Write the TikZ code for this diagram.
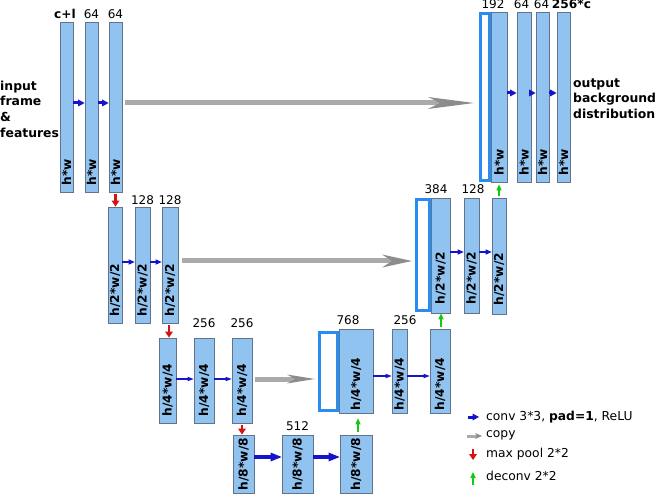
\documentclass[tikz,border=0pt]{standalone}
\usepackage{fontspec}
\setmainfont{DejaVu Sans}
\usetikzlibrary{arrows.meta}
\definecolor{boxfill}{RGB}{145,195,240}
\definecolor{boxline}{RGB}{100,115,140}
\definecolor{outl}{RGB}{40,140,240}
\definecolor{convc}{RGB}{20,20,200}
\definecolor{poolc}{RGB}{210,20,20}
\definecolor{deconvc}{RGB}{20,200,20}
\definecolor{copyc}{RGB}{170,170,170}
\definecolor{copyd}{RGB}{140,140,140}
\newcommand\fmbox[6]{\node[#1, minimum width={#4pt-#3pt}, minimum height={#6pt-#5pt}] (#2) at ({(#3+#4)/2},{(#5+#6)/2}) {};}
\tikzset{
 fm/.style={draw=boxline, fill=boxfill, line width=0.8pt, inner sep=0pt},
 ob/.style={draw=outl, fill=white, line width=3pt, inner sep=0pt},
 lbl/.style={font=\fontsize{12pt}{14pt}\selectfont, anchor=base, inner sep=0pt},
 blbl/.style={lbl, font=\fontsize{12.2pt}{14pt}\selectfont\bfseries},
 dimtxt/.style={font=\fontsize{12.2pt}{14pt}\selectfont\bfseries, rotate=90, anchor=west, inner sep=0pt},
 side/.style={font=\fontsize{12.4pt}{14pt}\selectfont\bfseries, anchor=base west, inner sep=0pt},
 legtxt/.style={font=\fontsize{12.3pt}{14pt}\selectfont, anchor=base west, inner sep=0pt},
 convA/.style={draw=convc, line width=3pt, -{Triangle[length=6.5pt,width=7pt,line width=0pt]}},
 convB/.style={draw=convc, line width=1.8pt, -{Triangle[length=6pt,width=5.5pt,line width=0pt]}},
 convC/.style={draw=convc, line width=1.5pt, -{Triangle[length=6pt,width=4.5pt,line width=0pt]}},
 convD/.style={draw=convc, line width=4pt, -{Triangle[length=11pt,width=9pt,line width=0pt]}},
 copyarr/.style={draw=copyc, line width=5pt},
 pool/.style={draw=poolc, line width=2.5pt, -{Triangle[length=6pt,width=8pt,line width=0pt]}},
 deconv/.style={draw=deconvc, line width=1.8pt, -{Triangle[length=6pt,width=5.5pt,line width=0pt]}},
}
\begin{document}
\begin{tikzpicture}[x=1pt,y=-1pt]
\useasboundingbox (0,0) rectangle (656,494);
% level 1 (encoder)
\fmbox{fm}{A1}{60}{73}{22}{192}
\fmbox{fm}{A2}{85}{98}{22}{192}
\fmbox{fm}{A3}{109}{122}{22}{192}
% level 2
\fmbox{fm}{B1}{108}{122}{207}{323}
\fmbox{fm}{B2}{135}{150}{207}{323}
\fmbox{fm}{B3}{162}{178}{207}{323}
% level 3
\fmbox{fm}{C1}{159}{176}{338}{423}
\fmbox{fm}{C2}{194}{214}{338}{423}
\fmbox{fm}{C3}{232}{252}{338}{423}
% level 4
\fmbox{fm}{D1}{233}{254}{435}{493}
\fmbox{fm}{D2}{282}{313}{435}{493}
\fmbox{fm}{D3}{340}{372}{435}{493}
% decoder level 3
\fmbox{ob}{E0}{319.5}{337.5}{332.5}{410.5}
\fmbox{fm}{E1}{339}{373}{329}{413}
\fmbox{fm}{E2}{392}{407}{329}{413}
\fmbox{fm}{E3}{430}{450}{329}{413}
% decoder level 2
\fmbox{ob}{F0}{416.5}{429.5}{199.5}{310.5}
\fmbox{fm}{F1}{431}{450}{198}{313}
\fmbox{fm}{F2}{464}{479}{198}{313}
\fmbox{fm}{F3}{492}{506}{198}{314}
% decoder level 1
\fmbox{ob}{G0}{480.5}{489.5}{13.5}{180.5}
\fmbox{fm}{G1}{491}{507}{12}{182}
\fmbox{fm}{G2}{517}{531}{12}{182}
\fmbox{fm}{G3}{536}{549}{12}{182}
\fmbox{fm}{G4}{557}{570}{12}{182}
% texts inside boxes
\foreach \b in {A1,A2,A3} {\node[dimtxt] at ([yshift=7pt]\b.south) {h*w};}
\foreach \b in {G1,G2,G3,G4} {\node[dimtxt] at ([yshift=7pt]\b.south) {h*w};}
\foreach \b in {B1,B2,B3} {\node[dimtxt] at ([yshift=7pt]\b.south) {h/2*w/2};}
\foreach \b in {F1,F2,F3} {\node[dimtxt] at ([yshift=9pt]\b.south) {h/2*w/2};}
\foreach \b in {C1,C2,C3} {\node[dimtxt] at ([yshift=7pt]\b.south) {h/4*w/4};}
\foreach \b in {E1,E2,E3} {\node[dimtxt] at ([yshift=3pt]\b.south) {h/4*w/4};}
\foreach \b in {D1,D2,D3} {\node[dimtxt] at ([yshift=3pt]\b.south) {h/8*w/8};}
% channel labels
\node[blbl] (lA1) at ([xshift=-1.5pt,yshift=3pt]A1.north) {c+l};
\node[lbl] (lA2) at ([yshift=3pt]A2.north) {64};
\node[lbl] (lA3) at ([yshift=3pt]A3.north) {64};
\node[lbl] (lB2) at ([yshift=2pt]B2.north) {128};
\node[lbl] (lB3) at ([yshift=2pt]B3.north) {128};
\node[lbl] (lC2) at ([yshift=10pt]C2.north) {256};
\node[lbl] (lC3) at ([yshift=10pt]C3.north) {256};
\node[lbl] (lD2) at ([yshift=4pt]D2.north) {512};
\node[lbl] (lE1) at (348,324) {768};
\node[lbl] (lE2) at (405,324) {256};
\node[lbl] (lF1) at (436,194) {384};
\node[lbl] (lF2) at (473,194) {128};
\node[lbl] (lG1) at (493,9) {192};
\node[lbl] (lG2) at (521.5,9) {64};
\node[lbl] (lG3) at (541.5,9) {64};
\node[blbl] (lG4) at (571.5,9) {256*c};
% side texts
\node[side] (in1) at (0,90.5) {input};
\node[side] (in2) at (0,106) {frame};
\node[side] (in3) at (0,121.8) {\&};
\node[side] (in4) at (0,137.7) {features};
\node[side] (out1) at (573,87.3) {output};
\node[side] (out2) at (573,103) {background};
\node[side] (out3) at (573,118.7) {distribution};
% conv arrows
\draw[convA] (A1.east |- 0,103) -- (A2.west |- 0,103);
\draw[convA] (A2.east |- 0,103) -- (A3.west |- 0,103);
\draw[convA] (G1.east |- 0,93) -- (G2.west |- 0,93);
\draw[convA] (G2.east |- 0,93) -- (G3.west |- 0,93);
\draw[convA] (G3.east |- 0,93) -- (G4.west |- 0,93);
\draw[convB] (B1.east |- 0,262) -- (B2.west |- 0,262);
\draw[convB] (B2.east |- 0,262) -- (B3.west |- 0,262);
\draw[convB] (F1.east |- 0,252) -- (F2.west |- 0,252);
\draw[convB] (F2.east |- 0,252) -- (F3.west |- 0,252);
\draw[convC] (C1.east |- 0,379) -- (C2.west |- 0,379);
\draw[convC] (C2.east |- 0,379) -- (C3.west |- 0,379);
\draw[convC] (E1.east |- 0,376) -- (E2.west |- 0,376);
\draw[convC] (E2.east |- 0,376) -- (E3.west |- 0,376);
\draw[convD] (D1.east |- 0,457) -- (D2.west |- 0,457);
\draw[convD] (D2.east |- 0,457) -- (D3.west |- 0,457);
% copy arrows
\draw[copyarr, -{Stealth[length=46pt,width=12pt,inset=12pt,line width=0pt,color=copyd]}] ([xshift=3pt]A3.east |- 0,103) -- ([xshift=-5pt]G0.west |- 0,103);
\draw[copyarr, -{Stealth[length=30pt,width=13pt,inset=10pt,line width=0pt,color=copyd]}] ([xshift=4pt]B3.east |- 0,261) -- ([xshift=-3pt]F0.west |- 0,261);
\draw[copyarr, -{Stealth[length=28pt,width=9pt,inset=8pt,line width=0pt,color=copyd]}] ([xshift=3pt]C3.east |- 0,379) -- ([xshift=-3pt]E0.west |- 0,379);
% max pool arrows
\draw[pool] ([yshift=-2pt]A3.south) -- (A3.south |- B1.north);
\draw[pool] ([xshift=-1pt,yshift=-2pt]B3.south) -- ([xshift=-1pt]B3.south |- C1.north);
\draw[pool] ([yshift=-2pt]C3.south) -- (C3.south |- D1.north);
% deconv arrows
\draw[deconv] ([xshift=2pt,yshift=3pt]D3.north) -- ([xshift=2pt,yshift=-5pt]D3.north |- E1.south);
\draw[deconv] ([xshift=1pt,yshift=2pt]E3.north) -- ([xshift=1pt]E3.north |- F1.south);
\draw[deconv] ([yshift=2pt]F3.north) -- ([yshift=-2pt]F3.north |- G1.south);
% legend
\coordinate (k1a) at (468,417); \coordinate (k1b) at (479,417);
\coordinate (k2a) at (467,436); \coordinate (k2b) at (482,436);
\coordinate (k3a) at (473,449); \coordinate (k3b) at (473,460);
\coordinate (k4a) at (473,485); \coordinate (k4b) at (473,472);
\draw[convA] (k1a) -- (k1b);
\draw[draw=copyc, line width=3pt, -{Stealth[length=7pt,width=6pt,inset=2pt,line width=0pt,color=copyd]}] (k2a) -- (k2b);
\draw[pool] (k3a) -- (k3b);
\draw[deconv] (k4a) -- (k4b);
\node[legtxt] (t1) at (486,420) {conv 3*3, \textbf{pad=1}, ReLU};
\node[legtxt] (t2) at (486,437) {copy};
\node[legtxt] (t3) at (486,457) {max pool 2*2};
\node[legtxt] (t4) at (486,480) {deconv 2*2};
\end{tikzpicture}
\end{document}
